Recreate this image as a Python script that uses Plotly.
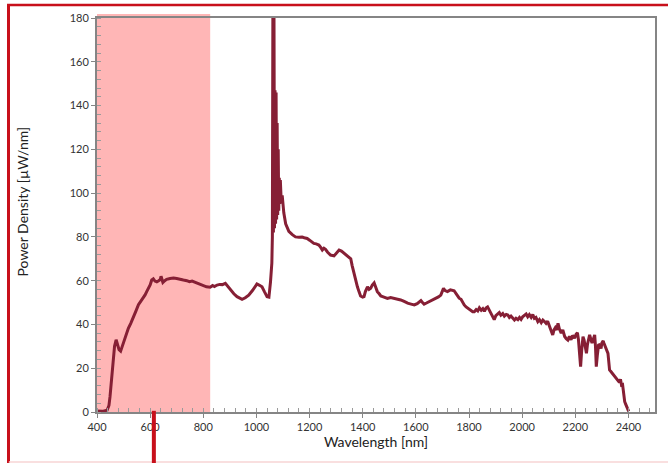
import plotly.graph_objects as go

# Spectral power density of the light source
wavelength_nm = [
    400, 420, 438, 445, 449, 455, 461, 466, 472, 478, 483, 489, 495, 500, 506, 512, 518, 527, 537, 546,
    556, 565, 575, 581, 587, 594, 600, 606, 612, 618, 625, 632, 638, 641, 644, 648, 655, 662, 675, 688,
    700, 712, 725, 738, 748, 758, 770, 780, 790, 801, 812, 826, 835, 842, 852, 862, 872, 883, 892, 902,
    915, 927, 937, 946, 958, 971, 985, 995, 1002, 1010, 1021, 1030, 1040, 1047, 1050, 1053, 1058, 1060,
    1062, 1064, 1066, 1068, 1070, 1072, 1074, 1076, 1078, 1080, 1082, 1084, 1086, 1088, 1090, 1093, 1097,
    1100, 1103, 1110, 1116, 1122, 1135, 1147, 1160, 1172, 1180, 1191, 1200, 1210, 1216, 1225, 1235, 1242,
    1248, 1254, 1260, 1268, 1279, 1292, 1300, 1311, 1320, 1329, 1340, 1350, 1355, 1360, 1367, 1373, 1380,
    1386, 1392, 1400, 1405, 1410, 1418, 1424, 1430, 1436, 1443, 1449, 1455, 1462, 1468, 1480, 1493, 1505,
    1518, 1530, 1543, 1556, 1569, 1582, 1594, 1605, 1612, 1619, 1625, 1631, 1640, 1650, 1662, 1675, 1685,
    1694, 1700, 1704, 1710, 1719, 1730, 1744, 1752, 1763, 1770, 1776, 1782, 1789, 1795, 1801, 1810, 1814,
    1820, 1827, 1833, 1839, 1846, 1852, 1858, 1864, 1870, 1877, 1883, 1889, 1895, 1901, 1908, 1914, 1920,
    1927, 1933, 1940, 1946, 1952, 1958, 1965, 1971, 1977, 1984, 1990, 1996, 2002, 2008, 2015, 2021, 2027,
    2034, 2040, 2046, 2052, 2059, 2065, 2072, 2078, 2084, 2090, 2096, 2102, 2106, 2110, 2115, 2120, 2125,
    2130, 2135, 2140, 2147, 2153, 2160, 2166, 2172, 2178, 2184, 2190, 2197, 2203, 2208, 2212, 2216, 2220,
    2224, 2229, 2233, 2237, 2242, 2246, 2250, 2254, 2258, 2263, 2267, 2270, 2273, 2276, 2279, 2283, 2288,
    2292, 2297, 2300, 2305, 2308, 2313, 2318, 2323, 2326, 2329, 2334, 2340, 2345, 2348, 2354, 2360, 2366,
    2370, 2374, 2378, 2380, 2384, 2386, 2390, 2394, 2399, 2401,
]
power_uw_per_nm = [
    0.5, 0.3, 0.8, 3, 7, 15, 24, 30, 33, 31, 28.5, 27.8, 30, 32.5, 34.5, 36.5, 38.2, 40.5, 43, 46,
    49, 50.5, 52, 53.5, 55, 56.5, 58, 60.3, 60.8, 59.8, 59.5, 60, 60.5, 62, 60, 59.2, 60, 60.6, 61, 61.2,
    61, 60.8, 60.3, 60, 59.5, 59.8, 59.2, 58.5, 58, 57.6, 57.2, 57, 57.8, 57.3, 58, 58.3, 58.2, 58.8, 57.5, 55.7,
    54, 52.7, 52, 51.5, 52.2, 53.4, 55.5, 57.5, 58.5, 58, 57.2, 55, 52.7, 52.5, 55, 59.5, 68, 80,
    190, 82, 186, 84, 147, 86, 146, 88, 132, 90, 120, 92, 107, 95, 106, 97, 99,
    95, 91, 86, 84, 82.5, 81, 80, 79.8, 79.9, 79.6, 79.3, 78.5, 77.5, 77, 76.8, 76.3, 75.2,
    74, 74.8, 74.3, 73, 71.7, 71.3, 72.5, 74, 73.5, 72.5, 71.5, 70.5, 70, 67, 63.4, 60, 57.2,
    55, 53, 52.5, 52.7, 55, 57.2, 56, 56.5, 58, 59, 57, 55, 54, 53, 52.5, 51.9, 52.3,
    51.9, 51.8, 51.2, 50.5, 49.7, 49.3, 48.9, 49.5, 50.2, 50.9, 50, 49.3, 49.8, 50.4, 51, 52, 52.6,
    53.4, 55, 56.5, 55.5, 55, 55.8, 55.4, 54, 52, 51.5, 50, 48.9, 48, 47.5, 46.6, 46, 45.8,
    45.8, 46.8, 46.2, 47.6, 46.5, 47.2, 46, 47.5, 48, 46.5, 45, 44, 42.2, 44, 45, 45.4, 44.2,
    45, 43.8, 44.6, 44.3, 43.2, 43.8, 42.5, 42, 42.8, 42.2, 43.2, 42.3, 43.5, 44.2, 44.8, 43.5, 44.5,
    43.2, 44.5, 42.8, 43.2, 41.3, 42.2, 40.8, 42, 41.3, 40.5, 41.5, 39.7, 38.5, 36.5, 35.2, 37.5, 38.5,
    37.5, 40.5, 38, 36, 37.5, 34.5, 33.5, 32.9, 34.5, 33, 35, 33.7, 35.5, 36.2, 33, 26, 20.7,
    28, 34.4, 33, 30, 26.8, 31, 34, 35.2, 33.5, 31.5, 32.9, 34, 35.2, 30, 20.7, 26, 31,
    30.6, 29, 31.5, 32.5, 31.4, 30, 28, 26.8, 23, 19.2, 18.5, 17.5, 16.5, 16.1, 15, 14, 13.5,
    15, 12.3, 12.5, 10, 7, 4.7, 3.5, 2, 0.9, 0.3,
]

# Highlighted visible band
band_start_nm = 400
band_end_nm = 826

x_range = [400, 2500]
y_range = [0, 180]
x_ticks = [400, 600, 800, 1000, 1200, 1400, 1600, 1800, 2000, 2200, 2400]
y_ticks = [0, 20, 40, 60, 80, 100, 120, 140, 160, 180]

fig = go.Figure()
fig.add_trace(go.Scatter(
    x=wavelength_nm, y=power_uw_per_nm, mode="lines",
    line=dict(color="#861f35", width=3),
    hoverinfo="x+y", showlegend=False,
))

span = x_range[1] - x_range[0]
shapes = [
    # pink band behind the curve
    dict(type="rect", xref="paper", yref="paper",
         x0=(band_start_nm - x_range[0]) / span, x1=(band_end_nm - x_range[0]) / span,
         y0=0, y1=1.01, fillcolor="#ffb6b6", line=dict(width=0), layer="below"),
    # red outer frame
    dict(type="line", xref="paper", yref="paper", x0=-0.1586, x1=-0.1586, y0=1.034, y1=-0.14,
         line=dict(color="#c8101b", width=3), layer="above"),
    dict(type="line", xref="paper", yref="paper", x0=-0.1612, x1=1.05, y0=1.033, y1=1.033,
         line=dict(color="#c8101b", width=2.5), layer="above"),
    dict(type="line", xref="paper", yref="paper", x0=-0.158, x1=1.05, y0=-0.127, y1=-0.127,
         line=dict(color="#f7d4d4", width=1.5), layer="above"),
    # red marker post below the axis
    dict(type="line", xref="x", yref="paper", x0=614, x1=614, y0=0.003, y1=-0.14,
         line=dict(color="#c8101b", width=4), layer="above"),
]

axis_font = dict(family="Lato, Roboto, sans-serif", size=11, color="#333333")
title_font = dict(family="Lato, Roboto, sans-serif", size=14, color="#222222")

fig.update_layout(
    width=668, height=463,
    margin=dict(l=97, r=13, t=18, b=51),
    paper_bgcolor="white", plot_bgcolor="white",
    shapes=shapes,
    annotations=[
        dict(text="Power Density [µW/nm]", xref="paper", yref="paper",
             x=-0.134, y=0.535, textangle=-90, showarrow=False,
             xanchor="center", yanchor="middle", font=title_font),
    ],
    xaxis=dict(
        range=x_range, tickvals=x_ticks, ticktext=[str(t) for t in x_ticks],
        showgrid=False, zeroline=False,
        showline=True, linecolor="#858585", linewidth=2, mirror=True,
        ticks="outside", ticklen=4, tickcolor="#858585", tickwidth=1,
        minor=dict(dtick=40, tick0=400, ticks="inside", ticklen=4, tickcolor="#9a9a9a", showgrid=False),
        tickfont=axis_font,
        title=dict(text="Wavelength [nm]", font=title_font, standoff=5),
    ),
    yaxis=dict(
        range=y_range, tickvals=y_ticks, ticktext=[str(t) for t in y_ticks],
        showgrid=False, zeroline=False,
        showline=True, linecolor="#858585", linewidth=2, mirror=True,
        ticks="outside", ticklen=4, tickcolor="#858585", tickwidth=1,
        minor=dict(dtick=4, tick0=0, ticks="inside", ticklen=4, tickcolor="#9a9a9a", showgrid=False),
        tickfont=axis_font,
    ),
)

fig.write_html("out.html")
